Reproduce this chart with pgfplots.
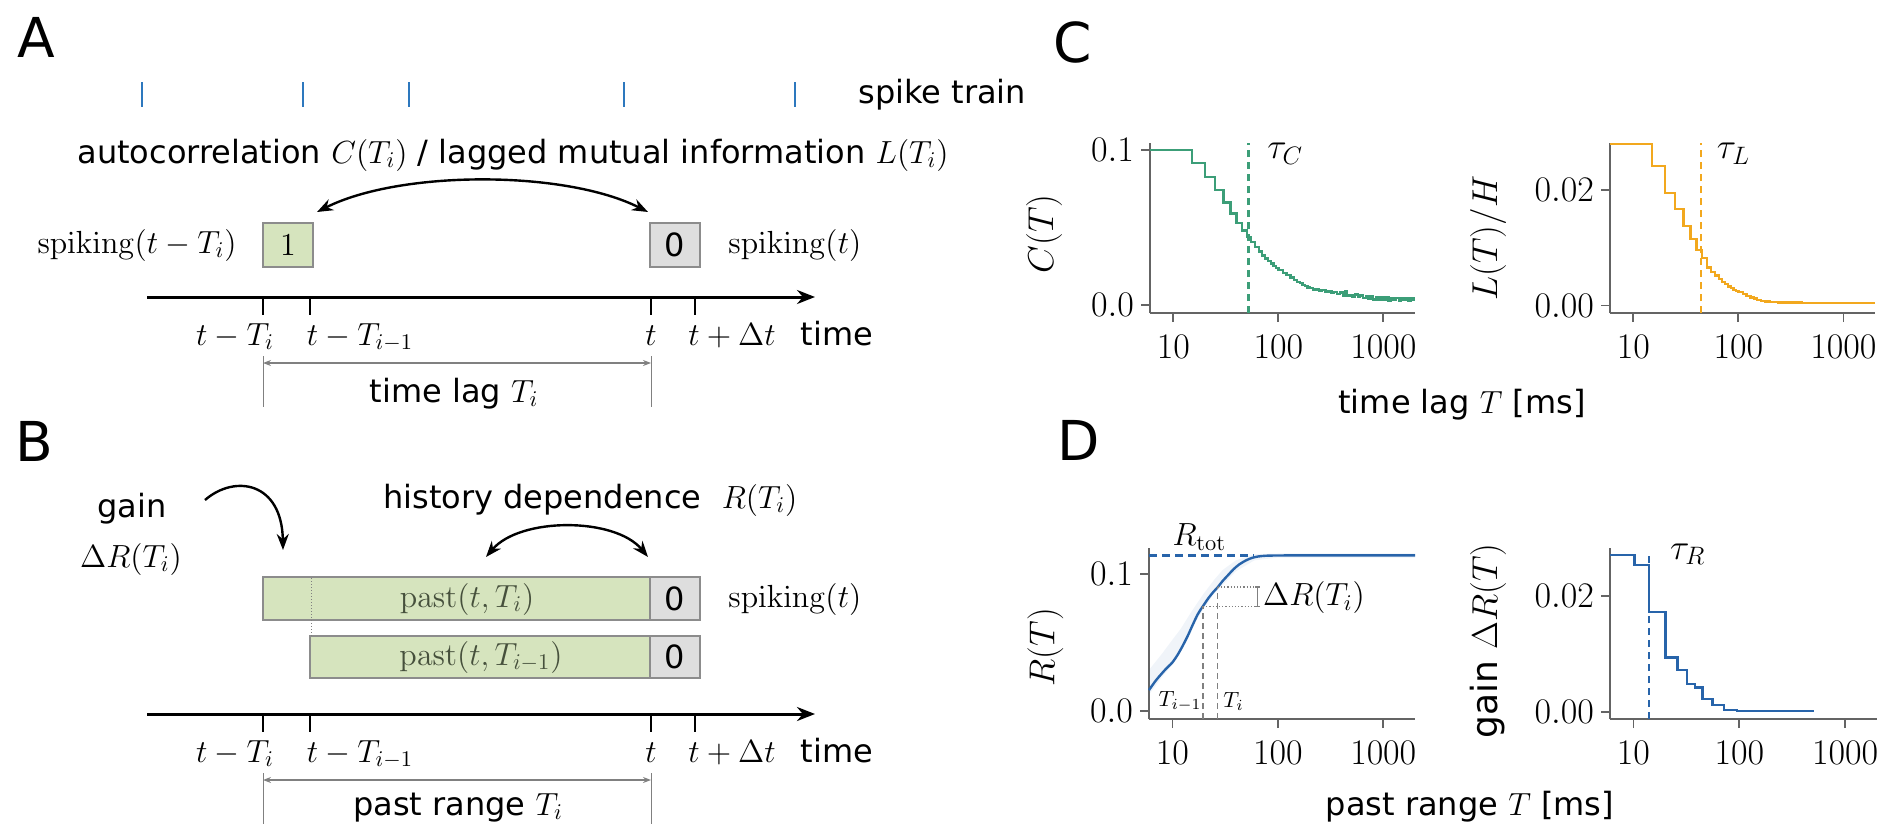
\RequirePackage{fix-cm}
\documentclass[border=0pt]{standalone}
\usepackage[no-math]{fontspec}
\setmainfont{DejaVu Sans}
\usepackage{pgfplots}
\pgfplotsset{compat=1.18}
\usetikzlibrary{arrows.meta}

\definecolor{cgreen}{RGB}{60,158,120}
\definecolor{corange}{RGB}{242,168,30}
\definecolor{cblue}{RGB}{40,100,170}
\definecolor{spikeblue}{RGB}{45,120,190}
\definecolor{boxgreen}{RGB}{214,228,190}
\definecolor{boxgray}{RGB}{222,222,222}
\definecolor{edgegray}{RGB}{140,140,140}
\definecolor{axgray}{RGB}{100,100,100}
\definecolor{pasttext}{RGB}{70,80,60}

\newcommand{\lblfont}{\fontsize{16}{19}\selectfont}
\newcommand{\panelfont}{\fontsize{27.5}{31}\selectfont}
\newcommand{\tickfont}{\fontsize{18}{21}\selectfont}

% autocorrelation C(T)
\pgfplotstableread{
T C
6 0.1000
10 0.1000
15 0.0915
20 0.0825
25 0.0740
30 0.0660
35 0.0590
40 0.0530
45 0.0480
50 0.0440
55 0.0405
60 0.0372
65 0.0345
70 0.0318
75 0.0300
80 0.0282
85 0.0268
90 0.0250
95 0.0240
100 0.0226
110 0.0208
120 0.0192
130 0.0176
140 0.0160
150 0.0148
160 0.0140
170 0.0128
180 0.0124
190 0.0112
200 0.0108
215 0.0100
230 0.0104
245 0.0094
260 0.0097
280 0.0086
300 0.0090
320 0.0078
340 0.0082
360 0.0072
385 0.0080
410 0.0062
430 0.0088
450 0.0060
480 0.0066
510 0.0054
540 0.0068
570 0.0050
600 0.0062
640 0.0046
680 0.0058
720 0.0040
760 0.0054
800 0.0036
850 0.0052
900 0.0034
950 0.0050
1000 0.0030
1060 0.0048
1120 0.0028
1180 0.0046
1250 0.0030
1320 0.0044
1400 0.0026
1480 0.0046
1560 0.0030
1650 0.0044
1740 0.0028
1840 0.0046
1940 0.0032
2000 0.0032
}\tabC

% lagged mutual information L(T)/H
\pgfplotstableread{
T L
6 0.0280
10 0.0280
15 0.0242
20 0.0195
25 0.0167
30 0.0138
35 0.0115
40 0.0096
45 0.0082
50 0.0066
55 0.0058
60 0.0052
65 0.0046
70 0.0041
75 0.0037
80 0.0033
85 0.0030
90 0.0027
95 0.0025
100 0.0023
110 0.0020
120 0.0017
130 0.0014
140 0.0012
150 0.0010
165 0.0008
180 0.0007
200 0.0006
240 0.0005
300 0.0005
400 0.0004
600 0.0004
1000 0.0004
2000 0.0004
}\tabL

% history dependence R(T)
\pgfplotstableread{
T R
6 0.0153
7 0.0225
8.5 0.0300
10 0.0355
11.2 0.0410
12.4 0.0470
14 0.0550
15.6 0.0630
17.5 0.0710
19.5 0.0766
22 0.0825
24.5 0.0870
27 0.0905
30 0.0950
34 0.0995
38 0.1035
43 0.1070
50 0.1100
57 0.1118
65 0.1128
75 0.1133
90 0.1135
150 0.1136
500 0.1136
2000 0.1136
}\tabR

% gain Delta R(T)
\pgfplotstableread{
T G
6 0.0270
10.2 0.0253
14 0.0172
20 0.0094
26 0.0072
32 0.0048
38 0.0042
45 0.0022
56 0.0012
72 0.0004
95 0.0002
510 0.0002
}\tabG

\pgfplotsset{
  every axis/.append style={
    scale only axis, anchor=south west,
    axis x line*=bottom, axis y line*=left,
    axis line style={-, draw=axgray, line width=1.1pt},
    tick style={draw=axgray, line width=0.9pt},
    major tick length=4.5pt, tick align=outside,
    tick label style={font=\tickfont},
    xticklabel style={yshift=-3pt},
    scaled y ticks=false,
    clip=false,
  },
}

\begin{document}
\begin{tikzpicture}
\useasboundingbox (0,0) rectangle (945pt,413.5pt);

\begin{scope}[x=0.5pt,y=-0.5pt,yshift=413.5pt]
  % panel letters
  \node[anchor=north west, inner sep=0pt, font=\panelfont] at (17,17) {A};
  \node[anchor=north west, inner sep=0pt, font=\panelfont] at (15,421) {B};
  \node[anchor=north west, inner sep=0pt, font=\panelfont] at (1053,21) {C};
  \node[anchor=north west, inner sep=0pt, font=\panelfont] at (1057,420) {D};

  % ---------------- A ----------------
  \foreach \s in {142,303,409,624,795}
    \draw[spikeblue, line width=1.3pt] (\s,82) -- (\s,107);
  \node[anchor=base west, inner sep=0pt, font=\lblfont] at (858,103) {spike train};
  \node[anchor=base west, inner sep=0pt, font=\lblfont] at (77,163)
    {autocorrelation $C(T_i)$ / lagged mutual information $L(T_i)$};
  \draw[line width=1.2pt, {Stealth[length=8pt,width=6pt]}-{Stealth[length=8pt,width=6pt]}]
    (317,212) .. controls (400,170) and (565,170) .. (648,212);
  \draw[draw=edgegray, fill=boxgreen, line width=1.1pt] (263,223) rectangle (313,267);
  \node[font=\lblfont] at (288,245) {$1$};
  \draw[draw=edgegray, fill=boxgray, line width=1.1pt] (650,223) rectangle (700,267);
  \node[font=\lblfont] at (675,245) {0};
  \node[anchor=east, inner sep=0pt, font=\lblfont] at (237,245) {$\mathrm{spiking}(t-T_i)$};
  \node[anchor=west, inner sep=0pt, font=\lblfont] at (728,245) {$\mathrm{spiking}(t)$};
  \draw[line width=1.5pt, -{Stealth[length=9pt,width=7pt]}] (147,297) -- (815,297);
  \foreach \s in {263,310,651,695}
    \draw[line width=1pt] (\s,297) -- (\s,315);
  \node[anchor=base, inner sep=0pt, font=\lblfont] at (235,345) {$t-T_i$};
  \node[anchor=base, inner sep=0pt, font=\lblfont] at (360,345) {$t-T_{i-1}$};
  \node[anchor=base, inner sep=0pt, font=\lblfont] at (651,345) {$t$};
  \node[anchor=base, inner sep=0pt, font=\lblfont] at (732,345) {$t+\Delta t$};
  \node[anchor=base, inner sep=0pt, font=\lblfont] at (837,345) {time};
  \draw[gray, line width=0.5pt] (263,356) -- (263,407) (651,356) -- (651,407);
  \draw[gray, line width=0.6pt, {Stealth[length=4pt,width=3pt]}-{Stealth[length=4pt,width=3pt]}] (263,363) -- (651,363);
  \node[anchor=base, inner sep=0pt, font=\lblfont] at (454,402) {time lag $T_i$};

  % ---------------- B ----------------
  \node[anchor=base, inner sep=0pt, font=\lblfont] at (132,517) {gain};
  \node[anchor=base, inner sep=0pt, font=\lblfont] at (131,567) {$\Delta R(T_i)$};
  \draw[line width=1.2pt, -{Stealth[length=8pt,width=6pt]}]
    (205,500) .. controls (235,474) and (282,482) .. (283,550);
  \node[anchor=base west, inner sep=0pt, font=\lblfont] at (383,508) {history dependence\ \ $R(T_i)$};
  \draw[line width=1.2pt, {Stealth[length=8pt,width=6pt]}-{Stealth[length=8pt,width=6pt]}]
    (486,557) .. controls (520,517) and (615,517) .. (648,557);
  \draw[draw=edgegray, fill=boxgreen, line width=1.1pt] (263,577) rectangle (650,620);
  \draw[draw=edgegray, fill=boxgray, line width=1.1pt] (650,577) rectangle (700,620);
  \draw[draw=edgegray, fill=boxgreen, line width=1.1pt] (310,636) rectangle (650,678);
  \draw[draw=edgegray, fill=boxgray, line width=1.1pt] (650,636) rectangle (700,678);
  \draw[gray, line width=0.5pt, densely dotted] (311,578) -- (311,636);
  \node[font=\lblfont, text=pasttext] at (467,599) {$\mathrm{past}(t,T_i)$};
  \node[font=\lblfont, text=pasttext] at (481,657) {$\mathrm{past}(t,T_{i-1})$};
  \node[font=\lblfont] at (675,599) {0};
  \node[font=\lblfont] at (675,657) {0};
  \node[anchor=west, inner sep=0pt, font=\lblfont] at (728,599) {$\mathrm{spiking}(t)$};
  \draw[line width=1.5pt, -{Stealth[length=9pt,width=7pt]}] (147,714) -- (815,714);
  \foreach \s in {263,310,651,695}
    \draw[line width=1pt] (\s,714) -- (\s,732);
  \node[anchor=base, inner sep=0pt, font=\lblfont] at (235,762) {$t-T_i$};
  \node[anchor=base, inner sep=0pt, font=\lblfont] at (360,762) {$t-T_{i-1}$};
  \node[anchor=base, inner sep=0pt, font=\lblfont] at (651,762) {$t$};
  \node[anchor=base, inner sep=0pt, font=\lblfont] at (732,762) {$t+\Delta t$};
  \node[anchor=base, inner sep=0pt, font=\lblfont] at (837,762) {time};
  \draw[gray, line width=0.5pt] (263,773) -- (263,824) (651,773) -- (651,824);
  \draw[gray, line width=0.6pt, {Stealth[length=4pt,width=3pt]}-{Stealth[length=4pt,width=3pt]}] (263,780) -- (651,780);
  \node[anchor=base, inner sep=0pt, font=\lblfont] at (458,815) {past range $T_i$};

  % shared x labels
  \node[anchor=base, inner sep=0pt, font=\lblfont] at (1462,413) {time lag $T$ [ms]};
  \node[anchor=base, inner sep=0pt, font=\lblfont] at (1470,815) {past range $T$ [ms]};
\end{scope}

% ---------------- C: autocorrelation ----------------
\begin{axis}[xmode=log, xmin=6, xmax=2000, xminorticks=false,
  xtick={10,100,1000}, xticklabels={$10$,$100$,$1000$},
  at={(575pt,257pt)}, width=132.5pt, height=85pt,
  ymin=-0.0052, ymax=0.1045, ytick={0,0.1}, yticklabels={$0.0$,$0.1$},
  ylabel={$C(T)$}, ylabel style={font=\tickfont, at={(axis description cs:-0.40,0.465)}, anchor=center}]
  \addplot[cgreen, line width=1.2pt, const plot mark left] table[x=T,y=C] {\tabC};
  \addplot[cgreen, line width=1.1pt, dash pattern=on 3.5pt off 2.5pt] coordinates {(52,-0.0052) (52,0.1045)};
  \node[anchor=north west, inner sep=0pt, font=\tickfont] at (axis cs:78,0.1045) {$\tau_C$};
\end{axis}

% ---------------- C: lagged mutual information ----------------
\begin{axis}[xmode=log, xmin=6, xmax=2000, xminorticks=false,
  xtick={10,100,1000}, xticklabels={$10$,$100$,$1000$},
  at={(805pt,257pt)}, width=132.5pt, height=85pt,
  ymin=-0.0013, ymax=0.0282, ytick={0,0.02}, yticklabels={$0.00$,$0.02$},
  ylabel={$L(T)/H$}, ylabel style={font=\tickfont, at={(axis description cs:-0.46,0.44)}, anchor=center}]
  \addplot[corange, line width=1.2pt, const plot mark left] table[x=T,y=L] {\tabL};
  \addplot[corange, line width=1.1pt, dash pattern=on 3.5pt off 2.5pt] coordinates {(44,-0.0013) (44,0.0282)};
  \node[anchor=north west, inner sep=0pt, font=\tickfont] at (axis cs:62,0.0282) {$\tau_L$};
\end{axis}

% ---------------- D: history dependence ----------------
\begin{axis}[xmode=log, xmin=6, xmax=2000, xminorticks=false,
  xtick={10,100,1000}, xticklabels={$10$,$100$,$1000$},
  at={(574.5pt,54pt)}, width=133pt, height=85.5pt,
  ymin=-0.0058, ymax=0.119, ytick={0,0.1}, yticklabels={$0.0$,$0.1$},
  ylabel={$R(T)$}, ylabel style={font=\tickfont, at={(axis description cs:-0.39,0.42)}, anchor=center}]
  \addplot[draw=none, fill=cblue, fill opacity=0.07] coordinates {
    (6,0.030) (8,0.042) (10,0.052) (12,0.060) (15,0.072) (19.5,0.085) (25,0.096)
    (30,0.103) (40,0.110) (60,0.1145) (100,0.1150) (2000,0.1150)
    (2000,0.1120) (100,0.1120) (60,0.1100) (40,0.1020) (30,0.0920) (25,0.0860)
    (19.5,0.0740) (15,0.0600) (12,0.0460) (10,0.0340) (8,0.0250) (6,0.0120)} -- cycle;
  \addplot[cblue, line width=1.1pt, dash pattern=on 4pt off 2.5pt] coordinates {(6,0.1136) (60,0.1136)};
  \addplot[cblue, line width=1.2pt, smooth] table[x=T,y=R] {\tabR};
  \addplot[gray, line width=0.6pt, densely dashed] coordinates {(19.5,-0.0058) (19.5,0.0766)};
  \addplot[gray, line width=0.6pt, densely dashed] coordinates {(27,-0.0058) (27,0.0905)};
  \addplot[gray, line width=0.6pt, densely dotted] coordinates {(19.5,0.0766) (64,0.0766)};
  \addplot[gray, line width=0.6pt, densely dotted] coordinates {(27,0.0905) (64,0.0905)};
  \addplot[gray, line width=0.6pt] coordinates {(64,0.0766) (64,0.0905)};
  \addplot[gray, line width=0.6pt] coordinates {(61,0.0766) (67,0.0766)};
  \addplot[gray, line width=0.6pt] coordinates {(61,0.0905) (67,0.0905)};
  \node[anchor=west, inner sep=0pt, font=\lblfont] at (axis cs:72,0.0830) {$\Delta R(T_i)$};
  \node[anchor=base, inner sep=0pt, font=\lblfont] at (axis cs:18,0.1205) {$R_{\mathrm{tot}}$};
  \node[inner sep=0pt, font=\fontsize{11}{13}\selectfont] at (axis cs:11.8,0.007) {$T_{i-1}$};
  \node[inner sep=0pt, font=\fontsize{11}{13}\selectfont] at (axis cs:38,0.007) {$T_{i}$};
\end{axis}

% ---------------- D: gain ----------------
\begin{axis}[xmode=log, xmin=6, xmax=2000, xminorticks=false,
  xtick={10,100,1000}, xticklabels={$10$,$100$,$1000$},
  at={(805pt,54pt)}, width=133.5pt, height=85.5pt,
  ymin=-0.0012, ymax=0.0282, ytick={0,0.02}, yticklabels={$0.00$,$0.02$},
  ylabel={gain $\Delta R(T)$}, ylabel style={font=\tickfont, at={(axis description cs:-0.457,0.456)}, anchor=center}]
  \addplot[cblue, line width=1.2pt, const plot mark left] table[x=T,y=G] {\tabG};
  \addplot[cblue, line width=1.1pt, dash pattern=on 3.5pt off 2.5pt] coordinates {(13.9,-0.0012) (13.9,0.027)};
  \node[anchor=north west, inner sep=0pt, font=\tickfont] at (axis cs:22,0.0290) {$\tau_R$};
\end{axis}
\end{tikzpicture}
\end{document}
